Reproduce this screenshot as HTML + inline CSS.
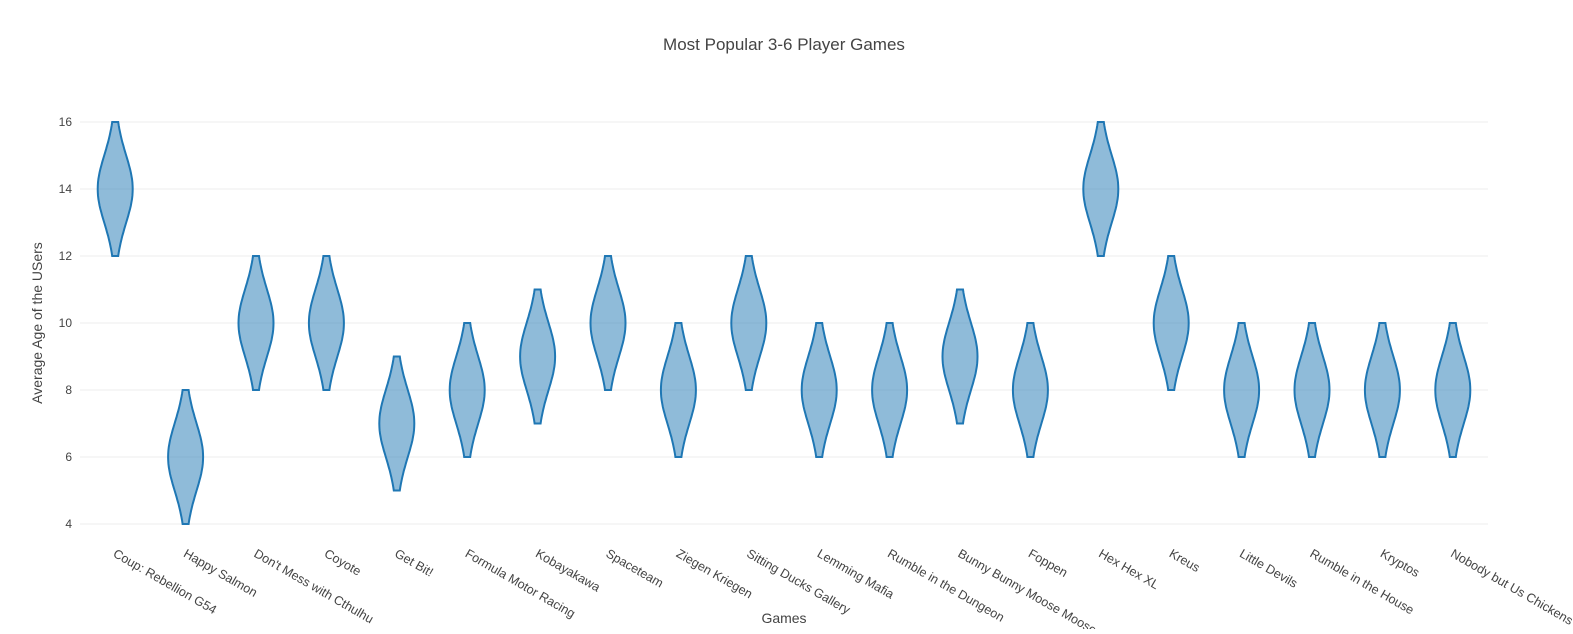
<!DOCTYPE html>
<html><head><meta charset="utf-8"><style>
body{margin:0;background:#fff;font-family:"Liberation Sans",sans-serif}
svg text{font-family:"Liberation Sans",sans-serif;fill:#444}
</style></head><body>
<svg id="chart" width="1573" height="629">
<text x="784" y="50" text-anchor="middle" font-size="17">Most Popular 3-6 Player Games</text>
<g id="grid"></g><g id="violins"></g><g id="xlabels"></g><g id="ylabels"></g>
<text x="784" y="623" text-anchor="middle" font-size="14">Games</text>
<text transform="translate(42,323) rotate(-90)" text-anchor="middle" font-size="14">Average Age of the USers</text>
</svg>
<script>
const categories=["Coup: Rebellion G54","Happy Salmon","Don't Mess with Cthulhu","Coyote","Get Bit!","Formula Motor Racing","Kobayakawa","Spaceteam","Ziegen Kriegen","Sitting Ducks Gallery","Lemming Mafia","Rumble in the Dungeon","Bunny Bunny Moose Moose","Foppen","Hex Hex XL","Kreus","Little Devils","Rumble in the House","Kryptos","Nobody but Us Chickens"];
const centers=[14,6,10,10,7,8,9,10,8,10,8,8,9,8,14,10,8,8,8,8];
const mins=[12,4,8,8,5,6,7,8,6,8,6,6,7,6,12,8,6,6,6,6];
const maxs=[16,8,12,12,9,10,11,12,10,12,10,10,11,10,16,12,10,10,10,10];
const yTicks=[4,6,8,10,12,14,16];
const NS="http://www.w3.org/2000/svg";
const x0=80,x1=1488,band=(x1-x0)/categories.length;
const xs=i=>x0+band*(i+0.5);
const ys=v=>524-(v-4)*(402/12);
const grid=document.getElementById('grid'),yl=document.getElementById('ylabels');
yTicks.forEach(t=>{
 const l=document.createElementNS(NS,'line');
 l.setAttribute('x1',x0);l.setAttribute('x2',x1);l.setAttribute('y1',ys(t));l.setAttribute('y2',ys(t));
 l.setAttribute('stroke','#eee');
 
 
 grid.appendChild(l);
 const tx=document.createElementNS(NS,'text');
 tx.setAttribute('x',72);tx.setAttribute('y',ys(t)+4);tx.setAttribute('text-anchor','end');tx.setAttribute('font-size','12');
 tx.textContent=t;
 
 
 yl.appendChild(tx);
});
const vg=document.getElementById('violins'),xl=document.getElementById('xlabels');
const s=0.51,e1=Math.exp(-1/(2*s*s));
categories.forEach((c,i)=>{
 const cx=xs(i),lo=mins[i],hi=maxs[i],mid=centers[i];
 const N=40,L=[],R=[];
 for(let k=0;k<=N;k++){
  const v=lo+(hi-lo)*k/N;
  const t=(v-mid)/((hi-lo)/2);
  const w=3+14.5*(Math.exp(-t*t/(2*s*s))-e1)/(1-e1);
  R.push([cx+w,ys(v)]);L.push([cx-w,ys(v)]);
 }
 const pts=R.concat(L.reverse());
 const p=document.createElementNS(NS,'path');
 p.setAttribute('d','M'+pts.map(q=>q[0].toFixed(1)+','+q[1].toFixed(1)).join('L')+'Z');
 p.setAttribute('fill','rgba(31,119,180,0.5)');p.setAttribute('stroke','#1f77b4');p.setAttribute('stroke-width','2');
 
 
 vg.appendChild(p);
 const tx=document.createElementNS(NS,'text');
 tx.setAttribute('transform','translate('+(cx-3)+',556) rotate(30)');
 tx.setAttribute('font-size','12.6');
 tx.textContent=c;
 
 
 xl.appendChild(tx);
});
</script>
</body></html>
